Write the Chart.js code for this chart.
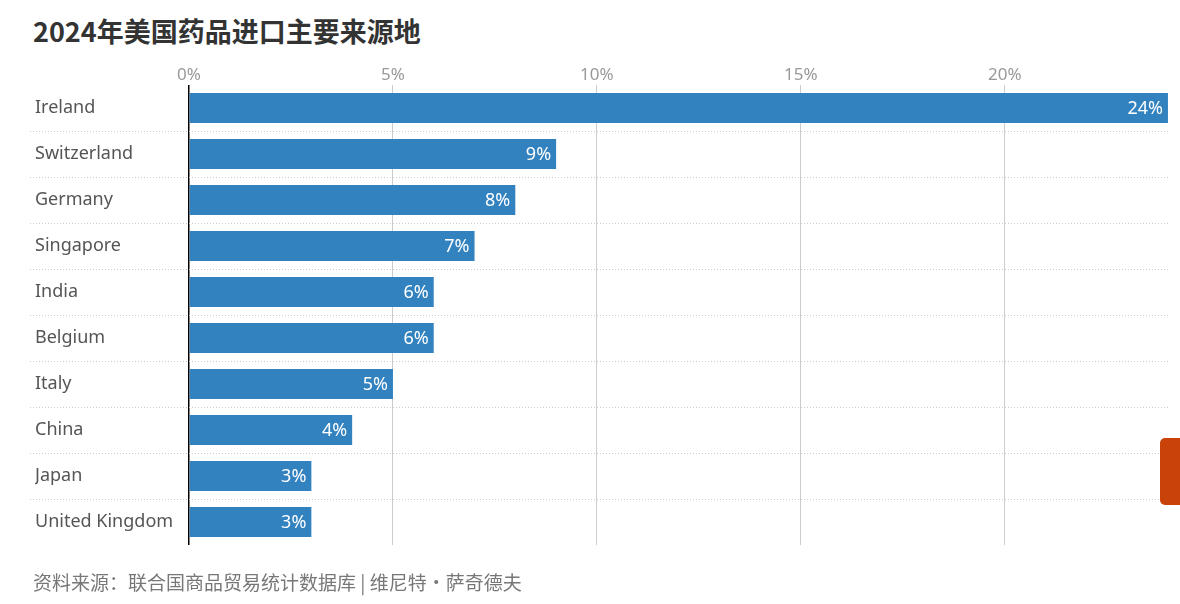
<!DOCTYPE html>
<html>
<head>
<meta charset="utf-8">
<script src="https://cdn.jsdelivr.net/npm/chart.js@4"></script>
<style>
  body { margin: 0; width: 1180px; height: 604px; background: #fff; position: relative; overflow: hidden; font-family: "Noto Sans CJK SC", "Noto Sans", sans-serif; }
  #title { position: absolute; left: 33px; top: 11px; font-size: 27px; font-weight: 700; color: #333; }
  #source { position: absolute; left: 33px; top: 568px; font-size: 19px; color: #777; }
  #tab { position: absolute; left: 1160px; top: 438px; width: 24px; height: 67px; background: #c9420a; border-radius: 5px 0 0 5px; }
  #wrap { position: absolute; left: 0; top: 0; width: 1180px; height: 604px; }
</style>
</head>
<body>
<div id="title">2024年美国药品进口主要来源地</div>
<div id="wrap"><canvas id="c" width="1180" height="604"></canvas></div>
<div id="source">资料来源：联合国商品贸易统计数据库 | 维尼特·萨奇德夫</div>
<div id="tab"></div>
<script>
// 来源地与占比（%）
const countries = ['Ireland', 'Switzerland', 'Germany', 'Singapore', 'India', 'Belgium', 'Italy', 'China', 'Japan', 'United Kingdom'];
const shares = [24, 9, 8, 7, 6, 6, 5, 4, 3, 3];
const tickValues = [0, 5, 10, 15, 20];

// 柱内数值标签 + 行间虚线
const decor = {
  id: 'decor',
  beforeDatasetsDraw(chart) {
    const { ctx, scales: { y }, chartArea } = chart;
    ctx.save();
    ctx.strokeStyle = '#ccc';
    ctx.lineWidth = 1;
    ctx.setLineDash([1, 2]);
    for (let i = 0; i < countries.length - 1; i++) {
      const yy = Math.round((y.getPixelForValue(i) + y.getPixelForValue(i + 1)) / 2) + 0.5;
      ctx.beginPath();
      ctx.moveTo(30, yy);
      ctx.lineTo(chartArea.right, yy);
      ctx.stroke();
    }
    ctx.restore();
  },
  afterDatasetsDraw(chart) {
    const { ctx } = chart;
    ctx.save();
    ctx.fillStyle = '#fff';
    ctx.font = '18px "Noto Sans", sans-serif';
    ctx.textAlign = 'right';
    ctx.textBaseline = 'middle';
    chart.getDatasetMeta(0).data.forEach((bar, i) => {
      ctx.fillText(shares[i] + '%', bar.x - 5, bar.y + 1);
    });
    ctx.restore();
  }
};

new Chart(document.getElementById('c'), {
  type: 'bar',
  data: {
    labels: countries,
    datasets: [{ data: shares, backgroundColor: '#3282bf', barPercentage: 0.65, categoryPercentage: 1 }]
  },
  options: {
    indexAxis: 'y',
    responsive: false,
    animation: false,
    devicePixelRatio: 1,
    layout: { padding: { left: 35, right: 10, top: 58, bottom: 59 } },
    plugins: { legend: { display: false }, tooltip: { enabled: false } },
    scales: {
      x: {
        position: 'top',
        min: 0, max: 24.05,
        afterFit: (s) => { s.height = 27; },
        afterBuildTicks: (s) => { s.ticks = tickValues.map(v => ({ value: v })); },
        ticks: { color: '#999', font: { size: 17, family: '"Noto Sans", sans-serif' }, padding: 0, callback: v => v + '%' },
        grid: { drawTicks: false, color: c => c.index === 0 ? '#000' : '#ccc', lineWidth: c => c.index === 0 ? 1.5 : 1 },
        border: { display: false }
      },
      y: {
        afterFit: (s) => { s.width = 154; },
        ticks: { color: '#555', crossAlign: 'far', font: { size: 18, family: '"Noto Sans", sans-serif' } },
        grid: { display: false },
        border: { display: false }
      }
    }
  },
  plugins: [decor]
});
</script>
</body>
</html>
